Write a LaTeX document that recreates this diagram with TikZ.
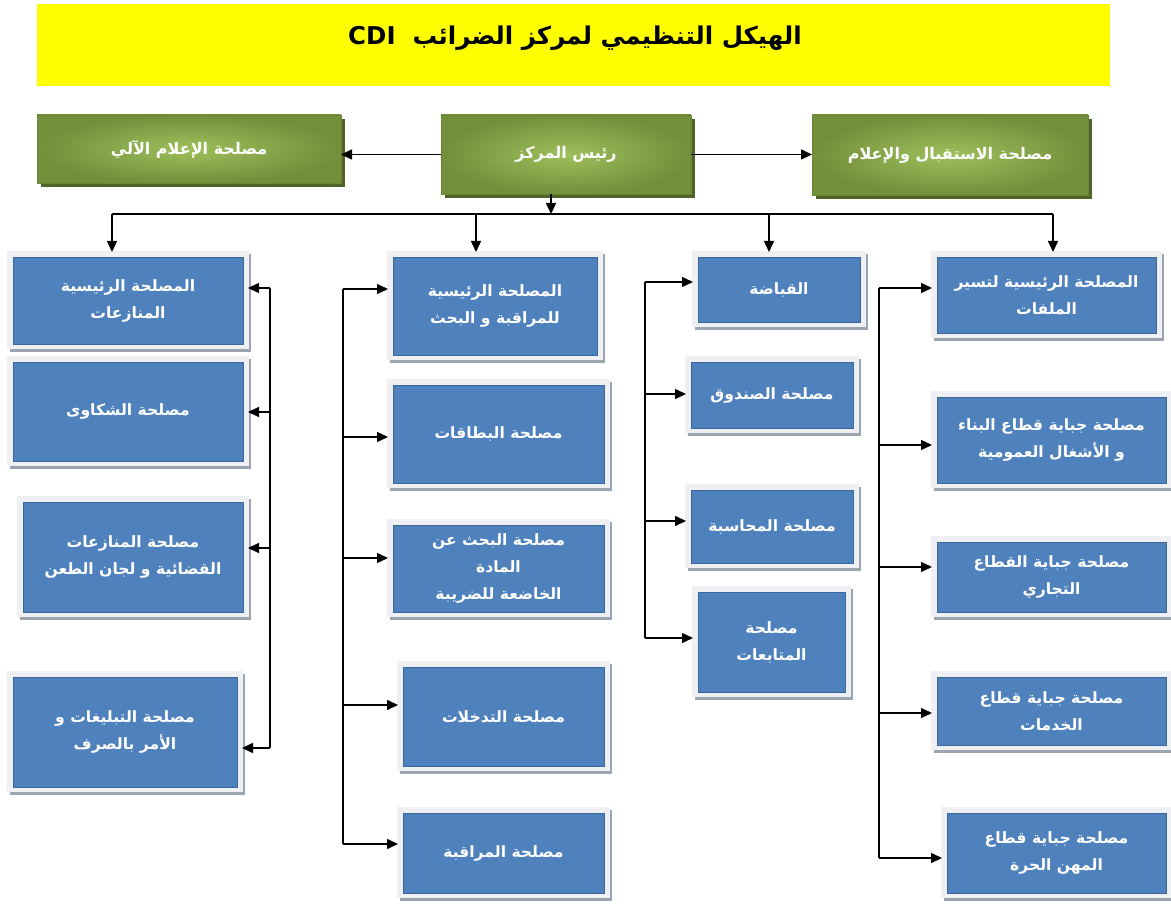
\documentclass[tikz,border=0pt]{standalone}
\usepackage{fontspec}
\newfontfamily\arabicfont[Script=Arabic]{DejaVu Sans}
\TeXXeTstate=1
\usetikzlibrary{arrows.meta,calc}
\definecolor{boxblue}{HTML}{4F81BD}
\definecolor{boxedge}{HTML}{3A679C}
\definecolor{framegray}{HTML}{EEF0F4}
\definecolor{shadowgray}{HTML}{9CA4B0}
\definecolor{greenlight}{HTML}{9EBF5C}
\definecolor{greendark}{HTML}{738F3A}
\definecolor{greenedge}{HTML}{6A8535}
\definecolor{greenshadow}{HTML}{4F6228}
\definecolor{titleyellow}{HTML}{FFFF00}
\tikzset{
  conn/.style={line width=1.5pt, black},
  arr/.style={conn, -{Triangle[length=11pt,width=10pt]}},
  bluebox/.style={fill=boxblue, draw=boxedge, line width=0.8pt, text=white,
    align=center, inner sep=2pt, outer sep=5pt,
    font=\arabicfont\bfseries\fontsize{15.6}{27}\selectfont},
  framefill/.style={fill=framegray},
  frameshadow/.style={fill=shadowgray},
  greenbox/.style={inner color=greenlight, outer color=greendark, draw=greenedge,
    line width=0.6pt, text=white, align=center, inner sep=2pt, outer sep=0pt,
    font=\arabicfont\bfseries\fontsize{16}{20}\selectfont},
  greenshade/.style={fill=greenshadow},
  titlebox/.style={fill=titleyellow},
  titletext/.style={font=\arabicfont\bfseries\fontsize{24.5}{30}\selectfont, text=black},
}
\newcommand\ar[1]{\beginR #1\endR}
\newcommand\bbox[6]{%
  \fill[frameshadow] ({#2-3},{#3-3}) rectangle ({#4+8},{#5+8});
  \fill[framefill] ({#2-6},{#3-6}) rectangle ({#4+6},{#5+5});
  \node[bluebox, minimum width={(#4)-(#2)}, minimum height={(#5)-(#3)}] (#1)
    at ({((#2)+(#4))/2},{((#3)+(#5))/2}) {#6};
}
\newcommand\gbox[6]{%
  \fill[greenshade] ({#2+4},{#3+4}) rectangle ({#4+4},{#5+4});
  \node[greenbox, minimum width={(#4)-(#2)}, minimum height={(#5)-(#3)}] (#1)
    at ({((#2)+(#4))/2},{((#3)+(#5))/2}) {#6};
}
\begin{document}
\begin{tikzpicture}[x=1pt,y=-1pt]
\useasboundingbox (0,0) rectangle (1171,904);
% title
\fill[titlebox] (37,4) rectangle (1110,86);
\node[titletext] (title) at (575,38) {\ar{الهيكل التنظيمي لمركز الضرائب \ \beginL CDI\endL}};
% top row
\gbox{info}{37}{115}{341}{183}{\ar{مصلحة الإعلام الآلي}}
\gbox{boss}{441}{115}{691}{194}{\ar{رئيس المركز}}
\gbox{recep}{812}{115}{1088}{195}{\ar{مصلحة الاستقبال والإعلام}}
\draw[arr] (boss.west) -- (boss.west -| info.east);
\draw[arr] (boss.east) -- (boss.east -| recep.west);
% column 1
\bbox{c1a}{13}{257}{243}{344}{\ar{المصلحة الرئيسية}\\\ar{المنازعات}}
\bbox{c1b}{13}{362}{243}{461}{\ar{مصلحة الشكاوى}}
\bbox{c1c}{23}{502}{243}{612}{\ar{مصلحة المنازعات}\\\ar{القضائية و لجان الطعن}}
\bbox{c1d}{13}{677}{237}{787}{\ar{مصلحة التبليغات و}\\\ar{الأمر بالصرف}}
% column 2
\bbox{c2a}{393}{257}{597}{355}{\ar{المصلحة الرئيسية}\\\ar{للمراقبة و البحث}}
\bbox{c2b}{393}{385}{604}{483}{\ar{مصلحة البطاقات}}
\bbox{c2c}{393}{525}{604}{612}{\ar{مصلحة البحث عن}\\\ar{المادة}\\\ar{الخاضعة للضريبة}}
\bbox{c2d}{403}{667}{604}{766}{\ar{مصلحة التدخلات}}
\bbox{c2e}{403}{813}{604}{893}{\ar{مصلحة المراقبة}}
% column 3
\bbox{c3a}{698}{257}{860}{322}{\ar{القباضة}}
\bbox{c3b}{691}{362}{853}{428}{\ar{مصلحة الصندوق}}
\bbox{c3c}{691}{490}{853}{563}{\ar{مصلحة المحاسبة}}
\bbox{c3d}{698}{592}{845}{692}{\ar{مصلحة}\\\ar{المتابعات}}
% column 4
\bbox{c4a}{937}{257}{1156}{333}{\ar{المصلحة الرئيسية لتسير}\\\ar{الملفات}}
\bbox{c4b}{937}{397}{1166}{483}{\ar{مصلحة جباية قطاع البناء}\\\ar{و الأشغال العمومية}}
\bbox{c4c}{937}{542}{1166}{612}{\ar{مصلحة جباية القطاع}\\\ar{التجاري}}
\bbox{c4d}{937}{677}{1166}{745}{\ar{مصلحة جباية قطاع}\\\ar{الخدمات}}
\bbox{c4e}{947}{813}{1166}{893}{\ar{مصلحة جباية قطاع}\\\ar{المهن الحرة}}
% bus
\coordinate (bus) at (551,214);
\coordinate (d1) at (112,214);
\coordinate (d2) at (476,214);
\coordinate (d3) at (769,214);
\coordinate (d4) at (1053,214);
\draw[arr] (bus |- boss.south) -- (bus);
\draw[conn] (d1) -- (d4);
\draw[arr] (d1) -- (d1 |- c1a.north);
\draw[arr] (d2) -- (d2 |- c2a.north);
\draw[arr] (d3) -- (d3 |- c3a.north);
\draw[arr] (d4) -- (d4 |- c4a.north);
% spine 1
\coordinate (s1a) at (270,288);
\coordinate (s1b) at (270,412);
\coordinate (s1c) at (270,548);
\coordinate (s1d) at (270,748);
\draw[conn] (s1a) -- (s1d);
\draw[arr] (s1a) -- (s1a -| c1a.east);
\draw[arr] (s1b) -- (s1b -| c1b.east);
\draw[arr] (s1c) -- (s1c -| c1c.east);
\draw[arr] (s1d) -- (s1d -| c1d.east);
% spine 2
\coordinate (s2a) at (343,289);
\coordinate (s2b) at (343,437);
\coordinate (s2c) at (343,558);
\coordinate (s2d) at (343,705);
\coordinate (s2e) at (343,844);
\draw[conn] (s2a) -- (s2e);
\draw[arr] (s2a) -- (s2a -| c2a.west);
\draw[arr] (s2b) -- (s2b -| c2b.west);
\draw[arr] (s2c) -- (s2c -| c2c.west);
\draw[arr] (s2d) -- (s2d -| c2d.west);
\draw[arr] (s2e) -- (s2e -| c2e.west);
% spine 3
\coordinate (s3a) at (645,282);
\coordinate (s3b) at (645,394);
\coordinate (s3c) at (645,521);
\coordinate (s3d) at (645,638);
\draw[conn] (s3a) -- (s3d);
\draw[arr] (s3a) -- (s3a -| c3a.west);
\draw[arr] (s3b) -- (s3b -| c3b.west);
\draw[arr] (s3c) -- (s3c -| c3c.west);
\draw[arr] (s3d) -- (s3d -| c3d.west);
% spine 4
\coordinate (s4a) at (879,288);
\coordinate (s4b) at (879,445);
\coordinate (s4c) at (879,567);
\coordinate (s4d) at (879,713);
\coordinate (s4e) at (879,858);
\draw[conn] (s4a) -- (s4e);
\draw[arr] (s4a) -- (s4a -| c4a.west);
\draw[arr] (s4b) -- (s4b -| c4b.west);
\draw[arr] (s4c) -- (s4c -| c4c.west);
\draw[arr] (s4d) -- (s4d -| c4d.west);
\draw[arr] (s4e) -- (s4e -| c4e.west);
\end{tikzpicture}
\end{document}
